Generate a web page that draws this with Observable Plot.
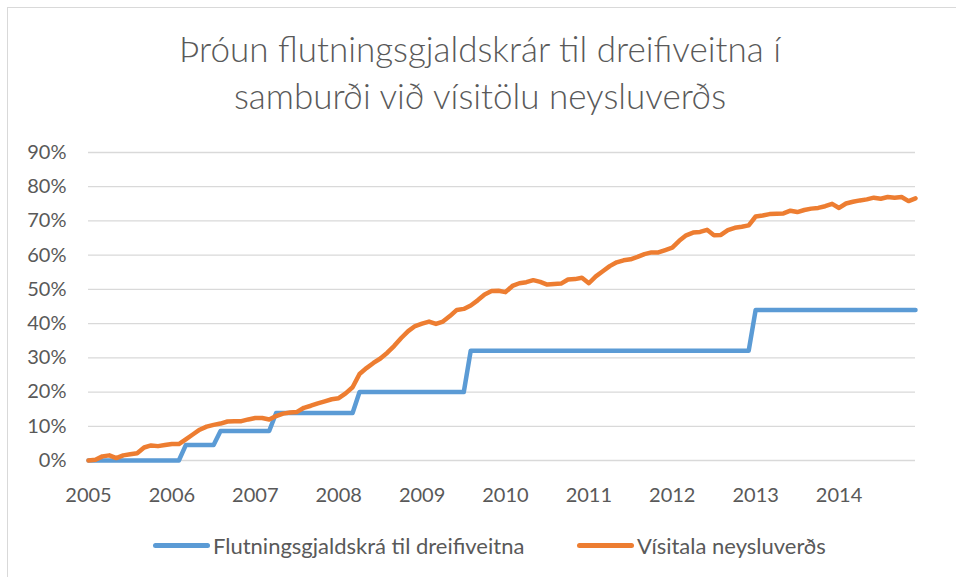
<!DOCTYPE html>
<html>
<head>
<meta charset="utf-8">
<script src="https://cdn.jsdelivr.net/npm/d3@7"></script>
<script src="https://cdn.jsdelivr.net/npm/@observablehq/plot@0.6"></script>
<style>
  html, body { margin: 0; padding: 0; background: #fff; }
  body { width: 956px; height: 577px; overflow: hidden; position: relative; font-family: Lato, "Open Sans", sans-serif; color: #595959; }
  #frame { position: absolute; left: 7px; top: 7px; width: 980px; height: 600px; border: 1.3px solid #d9d9d9; box-sizing: border-box; }
  #title { position: absolute; left: 0; top: 25px; width: 960px; text-align: center; font-size: 35px; font-weight: 300; line-height: 47px; color: #595959; }
  #chart { position: absolute; left: 0; top: 0; }
  .leg { position: absolute; top: 531px; height: 28px; display: flex; align-items: center; font-size: 22px; color: #595959; white-space: nowrap; }
  .leg span.sw { display: inline-block; width: 57px; height: 5px; border-radius: 3px; margin-right: 3px; }
</style>
</head>
<body>
<div id="frame"></div>
<div id="title">Þróun flutningsgjaldskrár til dreifiveitna í<br>samburði við vísitölu neysluverðs</div>
<div id="chart"></div>
<div class="leg" style="left:153px"><span class="sw" style="background:#5B9BD5"></span><span id="l1"></span></div>
<div class="leg" style="left:577px"><span class="sw" style="background:#ED7D31"></span><span id="l2"></span></div>
<script>
// Series names
const seriesNames = ["Flutningsgjaldskrá til dreifiveitna", "Vísitala neysluverðs"];
// Monthly data Jan 2005 - Dec 2014, % change since Jan 2005
const startYear = 2005;
const yearLabels = ["2005","2006","2007","2008","2009","2010","2011","2012","2013","2014"];
const yTickValues = [0, 10, 20, 30, 40, 50, 60, 70, 80, 90];

// Flutningsgjaldskrá til dreifiveitna (%)
const tariff = [
  0, 0, 0, 0, 0, 0, 0, 0, 0, 0, 0, 0,                               // 2005
  0, 0, 4.5, 4.5, 4.5, 4.5, 4.5, 8.6, 8.6, 8.6, 8.6, 8.6,           // 2006
  8.6, 8.6, 8.6, 13.9, 13.9, 13.9, 13.9, 13.9, 13.9, 13.9, 13.9, 13.9, // 2007
  13.9, 13.9, 13.9, 20, 20, 20, 20, 20, 20, 20, 20, 20,             // 2008
  20, 20, 20, 20, 20, 20, 20, 32.1, 32.1, 32.1, 32.1, 32.1,         // 2009
  32.1, 32.1, 32.1, 32.1, 32.1, 32.1, 32.1, 32.1, 32.1, 32.1, 32.1, 32.1, // 2010
  32.1, 32.1, 32.1, 32.1, 32.1, 32.1, 32.1, 32.1, 32.1, 32.1, 32.1, 32.1, // 2011
  32.1, 32.1, 32.1, 32.1, 32.1, 32.1, 32.1, 32.1, 32.1, 32.1, 32.1, 32.1, // 2012
  44, 44, 44, 44, 44, 44, 44, 44, 44, 44, 44, 44,                   // 2013
  44, 44, 44, 44, 44, 44, 44, 44, 44, 44, 44, 44                    // 2014
];

// Vísitala neysluverðs (%)
const cpi = [
  0.0, 0.2, 1.2, 1.5, 0.7, 1.5, 1.8, 2.1, 3.8, 4.4, 4.2, 4.5,       // 2005
  4.8, 4.8, 6.2, 7.6, 9.0, 9.9, 10.4, 10.8, 11.4, 11.5, 11.5, 12.0, // 2006
  12.4, 12.4, 12.0, 13.0, 13.7, 14.0, 14.2, 15.4, 16.0, 16.7, 17.3, 17.9, // 2007
  18.2, 19.6, 21.4, 25.3, 27.0, 28.5, 29.8, 31.5, 33.5, 35.8, 37.8, 39.3, // 2008
  40.0, 40.6, 39.9, 40.6, 42.2, 44.0, 44.3, 45.3, 46.8, 48.5, 49.5, 49.6, // 2009
  49.2, 51.0, 51.8, 52.1, 52.7, 52.2, 51.4, 51.6, 51.7, 52.9, 53.0, 53.4, // 2010
  51.8, 53.8, 55.3, 56.8, 57.9, 58.5, 58.8, 59.5, 60.3, 60.8, 60.8, 61.5, // 2011
  62.2, 64.2, 65.8, 66.6, 66.8, 67.4, 65.8, 65.9, 67.3, 68.0, 68.3, 68.7, // 2012
  71.3, 71.6, 72.0, 72.1, 72.2, 73.0, 72.6, 73.2, 73.6, 73.8, 74.3, 75.0, // 2013
  73.8, 75.1, 75.6, 76.0, 76.3, 76.8, 76.5, 77.0, 76.8, 77.0, 75.8, 76.6  // 2014
];

const colors = ["#5B9BD5", "#ED7D31"];

document.getElementById("l1").textContent = seriesNames[0];
document.getElementById("l2").textContent = seriesNames[1];

const tariffData = tariff.map((v, i) => ({i, v: v / 100}));
const cpiData = cpi.map((v, i) => ({i, v: v / 100}));
const yTicks = yTickValues.map(d => d / 100);
const yearIdx = yearLabels.map((_, k) => k * 12);

const chart = Plot.plot({
  width: 956,
  height: 520,
  marginLeft: 88,
  marginRight: 41,
  marginTop: 152,
  marginBottom: 60,
  style: {fontFamily: "Lato, 'Open Sans', sans-serif", fontSize: "20px", color: "#595959", background: "transparent", overflow: "visible"},
  x: {domain: [0, tariff.length - 1], axis: null},
  y: {domain: [0, 0.9], axis: null},
  marks: [
    Plot.ruleY(yTicks, {stroke: "#d9d9d9", strokeWidth: 1.3}),
    Plot.axisY({ticks: yTicks, tickFormat: d => Math.round(d * 100) + "%", tickSize: 0, tickPadding: 22, fontSize: 20, label: null}),
    Plot.axisX({ticks: yearIdx, tickFormat: i => yearLabels[i / 12], tickSize: 0, tickPadding: 27, fontSize: 20, label: null}),
    Plot.line(tariffData, {x: "i", y: "v", stroke: colors[0], strokeWidth: 4.5, strokeLinejoin: "round", strokeLinecap: "round"}),
    Plot.line(cpiData, {x: "i", y: "v", stroke: colors[1], strokeWidth: 4.5, strokeLinejoin: "round", strokeLinecap: "round"})
  ]
});
document.getElementById("chart").appendChild(chart);
</script>
</body>
</html>
